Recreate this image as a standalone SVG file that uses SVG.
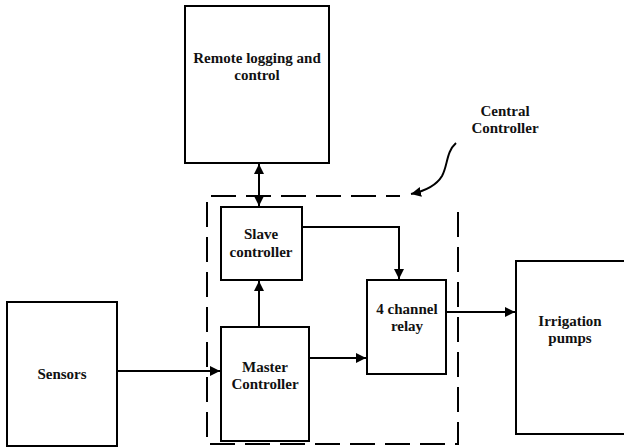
<svg xmlns="http://www.w3.org/2000/svg" width="624" height="448" viewBox="0 0 624 448">
<style>
.box{fill:#fff;stroke:#000;stroke-width:2}
.t{font-family:'Liberation Serif','Times New Roman','DejaVu Serif',serif;font-weight:700;font-size:15px;text-anchor:middle;fill:#111}
.c{fill:none;stroke:#000;stroke-width:2}
</style>
<defs>
<marker id="ah" viewBox="0 0 10 10" refX="10" refY="5" markerWidth="10" markerHeight="10" markerUnits="userSpaceOnUse" orient="auto-start-reverse">
<path d="M0,0 L10,5 L0,10 z" fill="#000"/>
</marker>
</defs>
<rect width="624" height="448" fill="#fff"/>
<g id="frame">
<path d="M458,212 L458,444 L207,444 L207,196 L400,196" fill="none" stroke="#000" stroke-width="2" stroke-dasharray="25 10"/>
</g>
<g id="remote">
<rect class="box" x="185" y="6" width="144" height="157"/>
<text class="t" x="257" y="63" font-family="Liberation Serif, serif">Remote logging and</text>
<text class="t" x="257" y="80" font-family="Liberation Serif, serif">control</text>
</g>
<g id="slave">
<rect class="box" x="221" y="207" width="81" height="73"/>
<text class="t" x="261" y="239" font-family="Liberation Serif, serif">Slave</text>
<text class="t" x="261" y="257" font-family="Liberation Serif, serif">controller</text>
</g>
<g id="master">
<rect class="box" x="221" y="327" width="88" height="114"/>
<text class="t" x="265" y="372" font-family="Liberation Serif, serif">Master</text>
<text class="t" x="265" y="389" font-family="Liberation Serif, serif">Controller</text>
</g>
<g id="relay">
<rect class="box" x="367" y="280" width="79" height="94"/>
<text class="t" x="407" y="314" font-family="Liberation Serif, serif">4 channel</text>
<text class="t" x="407" y="331" font-family="Liberation Serif, serif">relay</text>
</g>
<g id="sensors">
<rect class="box" x="7" y="302" width="110" height="144"/>
<text class="t" x="62" y="379" font-family="Liberation Serif, serif">Sensors</text>
</g>
<g id="pumps">
<rect class="box" x="516" y="261" width="114" height="173"/>
<text class="t" x="570" y="326" font-family="Liberation Serif, serif">Irrigation</text>
<text class="t" x="570" y="343" font-family="Liberation Serif, serif">pumps</text>
</g>
<g id="label">
<text class="t" x="505" y="116" font-family="Liberation Serif, serif">Central</text>
<text class="t" x="505" y="133" font-family="Liberation Serif, serif">Controller</text>
</g>
<g id="connectors">
<line class="c" x1="259" y1="164" x2="259" y2="206" marker-start="url(#ah)" marker-end="url(#ah)"/>
<line class="c" x1="259" y1="327" x2="259" y2="281" marker-end="url(#ah)"/>
<polyline class="c" points="302,227 399,227 399,279" marker-end="url(#ah)"/>
<line class="c" x1="309" y1="358" x2="366" y2="358" marker-end="url(#ah)"/>
<line class="c" x1="117" y1="371" x2="220" y2="371" marker-end="url(#ah)"/>
<line class="c" x1="446" y1="312" x2="515" y2="312" marker-end="url(#ah)"/>
<path class="c" d="M456,143 C446,152 448,165 442,176 C436,186 425,191 411,194" marker-end="url(#ah)"/>
</g>
</svg>
